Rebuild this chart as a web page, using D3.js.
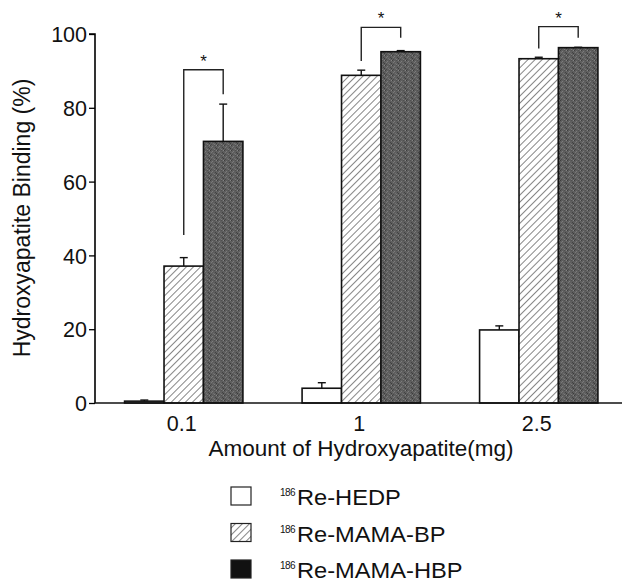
<!DOCTYPE html>
<html>
<head>
<meta charset="utf-8">
<script src="https://cdn.jsdelivr.net/npm/d3@7"></script>
<style>
  body { margin: 0; background: #fff; }
  text { font-family: "Liberation Sans", Arial, sans-serif; fill: #111; }
</style>
</head>
<body>
<svg id="chart" width="626" height="583"></svg>
<script>
// amount of hydroxyapatite (mg)
var categories = ["0.1", "1", "2.5"];
var seriesNames = ["Re-HEDP", "Re-MAMA-BP", "Re-MAMA-HBP"];

// binding (%) and upper error for each series
var hedp = [0.5, 4.0, 19.8];
var hedpErr = [0.3, 1.5, 1.1];
var mamaBp = [37.1, 88.8, 93.3];
var mamaBpErr = [2.3, 1.4, 0.4];
var mamaHbp = [70.9, 95.2, 96.3];
var mamaHbpErr = [10.1, 0.3, 0.1];

// significance brackets (%): top, left leg end, right leg end
var bracketTop = [90.3, 101.8, 102.0];
var bracketLeft = [45.5, 92.7, 96.1];
var bracketRight = [83.7, 99.0, 99.0];

var yTicks = [0, 20, 40, 60, 80, 100];

var svg = d3.select("#chart");

var x = d3.scaleBand().domain(categories).range([95, 627.5]).padding(0);
var xInner = d3.scaleBand().domain(seriesNames)
    .range([x.bandwidth() / 6, x.bandwidth() * 5 / 6]);
var y = d3.scaleLinear().domain([0, 100]).range([403, 34]);

// fills
var defs = svg.append("defs");
var hatch = defs.append("pattern")
    .attr("id", "hatch")
    .attr("patternUnits", "userSpaceOnUse")
    .attr("width", 5)
    .attr("height", 5)
    .attr("patternTransform", "rotate(45)");
hatch.append("rect").attr("width", 5).attr("height", 5).attr("fill", "#fff");
hatch.append("line")
    .attr("x1", 0).attr("y1", 0).attr("x2", 0).attr("y2", 5)
    .attr("stroke", "#444").attr("stroke-width", 1.3);

// speckled dark grey, like the scanned print
var grain = defs.append("pattern")
    .attr("id", "grain")
    .attr("patternUnits", "userSpaceOnUse")
    .attr("width", 7)
    .attr("height", 5);
grain.append("rect").attr("width", 7).attr("height", 5).attr("fill", "#5e5e5e");
[[0, 0, "#3e3e3e"], [2, 1, "#7c7c7c"], [5, 2, "#444"], [3, 3, "#707070"], [6, 0, "#848484"],
 [1, 4, "#4a4a4a"], [4, 0, "#505050"], [6, 3, "#3c3c3c"], [1, 2, "#787878"], [4, 4, "#7a7a7a"]]
    .forEach(function(p) {
        grain.append("rect").attr("x", p[0]).attr("y", p[1])
            .attr("width", 1).attr("height", 1).attr("fill", p[2]);
    });

var fills = ["#fff", "url(#hatch)", "url(#grain)"];
var legendFills = ["#fff", "url(#hatch)", "#111"];

var bars = [];
[hedp, mamaBp, mamaHbp].forEach(function(vals, s) {
    var errs = [hedpErr, mamaBpErr, mamaHbpErr][s];
    categories.forEach(function(c, i) {
        bars.push({ cat: c, series: seriesNames[s], s: s, value: vals[i], err: errs[i] });
    });
});

var barMid = function(d) {
    return x(d.cat) + xInner(d.series) + xInner.bandwidth() / 2;
};

// bars
var g = svg.append("g").attr("id", "bars");
g.selectAll("rect")
    .data(bars)
    .enter()
    .append("rect")
    .attr("x", function(d) {
        return x(d.cat) + xInner(d.series);
    })
    .attr("y", function(d) {
        return y(d.value);
    })
    .attr("width", xInner.bandwidth())
    .attr("height", function(d) {
        return y(0) - y(d.value);
    })
    .attr("fill", function(d) {
        return fills[d.s];
    })
    .attr("stroke", "#111")
    .attr("stroke-width", 1.6);

// error bars (upper only)
var e = svg.append("g").attr("id", "errors");
e.selectAll("line.stem")
    .data(bars)
    .enter()
    .append("line")
    .attr("class", "stem")
    .attr("x1", barMid)
    .attr("x2", barMid)
    .attr("y1", function(d) { return y(d.value); })
    .attr("y2", function(d) { return y(d.value + d.err); })
    .attr("stroke", "#111")
    .attr("stroke-width", 1.4);
e.selectAll("line.cap")
    .data(bars)
    .enter()
    .append("line")
    .attr("class", "cap")
    .attr("x1", function(d) { return barMid(d) - 4; })
    .attr("x2", function(d) { return barMid(d) + 4; })
    .attr("y1", function(d) { return y(d.value + d.err); })
    .attr("y2", function(d) { return y(d.value + d.err); })
    .attr("stroke", "#111")
    .attr("stroke-width", 1.4);

// significance brackets between BP and HBP
var br = svg.append("g").attr("id", "brackets");
var bracketData = categories.map(function(c, i) {
    return {
        x1: x(c) + xInner(seriesNames[1]) + xInner.bandwidth() / 2,
        x2: x(c) + xInner(seriesNames[2]) + xInner.bandwidth() / 2,
        top: bracketTop[i], left: bracketLeft[i], right: bracketRight[i]
    };
});
br.selectAll("path")
    .data(bracketData)
    .enter()
    .append("path")
    .attr("d", function(d) {
        return "M" + d.x1 + "," + y(d.left) + "V" + y(d.top) + "H" + d.x2 + "V" + y(d.right);
    })
    .attr("fill", "none")
    .attr("stroke", "#222")
    .attr("stroke-width", 1.4);
br.selectAll("text")
    .data(bracketData)
    .enter()
    .append("text")
    .attr("x", function(d) { return (d.x1 + d.x2) / 2; })
    .attr("y", function(d) { return y(d.top) - 3; })
    .attr("text-anchor", "middle")
    .style("font-size", "17px")
    .text("*");

// axes
var yAxis = svg.append("g")
    .attr("transform", "translate(95,0)")
    .call(d3.axisLeft(y).tickValues(yTicks).tickSize(6).tickPadding(2).tickFormat(d3.format("d")));
yAxis.selectAll("text").style("font-size", "21.5px").attr("dy", "0.36em");
yAxis.select(".domain").attr("d", "M-6," + y(100) + "H0V" + y(0)).attr("stroke-width", 1.6);
yAxis.selectAll(".tick line").attr("stroke-width", 1.3);

svg.append("line")
    .attr("x1", 95).attr("x2", 622)
    .attr("y1", y(0)).attr("y2", y(0))
    .attr("stroke", "#111").attr("stroke-width", 1.6);

svg.append("g").selectAll("text")
    .data(categories)
    .enter()
    .append("text")
    .attr("x", function(d) { return x(d) + x.bandwidth() / 2 - 2; })
    .attr("y", 431)
    .attr("text-anchor", "middle")
    .style("font-size", "21.5px")
    .text(function(d) { return d; });

svg.append("text")
    .attr("x", 361)
    .attr("y", 456)
    .attr("text-anchor", "middle")
    .style("font-size", "22.5px")
    .text("Amount of Hydroxyapatite(mg)");

svg.append("text")
    .attr("transform", "translate(30,218) rotate(-90)")
    .attr("text-anchor", "middle")
    .style("font-size", "23px")
    .text("Hydroxyapatite Binding (%)");

// legend
var legend = svg.append("g").attr("id", "legend");
var rows = legend.selectAll("g")
    .data(seriesNames)
    .enter()
    .append("g")
    .attr("transform", function(d, i) {
        return "translate(231," + (505 + i * 36.5) + ")";
    });
rows.append("rect")
    .attr("x", 0)
    .attr("y", -18)
    .attr("width", 20)
    .attr("height", 18)
    .attr("fill", function(d, i) { return legendFills[i]; })
    .attr("stroke", "#222")
    .attr("stroke-width", 1.2);
rows.append("text")
    .attr("x", 49)
    .attr("y", -9)
    .style("font-size", "10px")
    .style("letter-spacing", "-0.5px")
    .text("186");
// legend names are printed a little wide in the original
rows.append("text")
    .attr("transform", "translate(66,0) scale(1.1,1)")
    .style("font-size", "21.5px")
    .text(function(d) { return d; });
</script>
</body>
</html>
